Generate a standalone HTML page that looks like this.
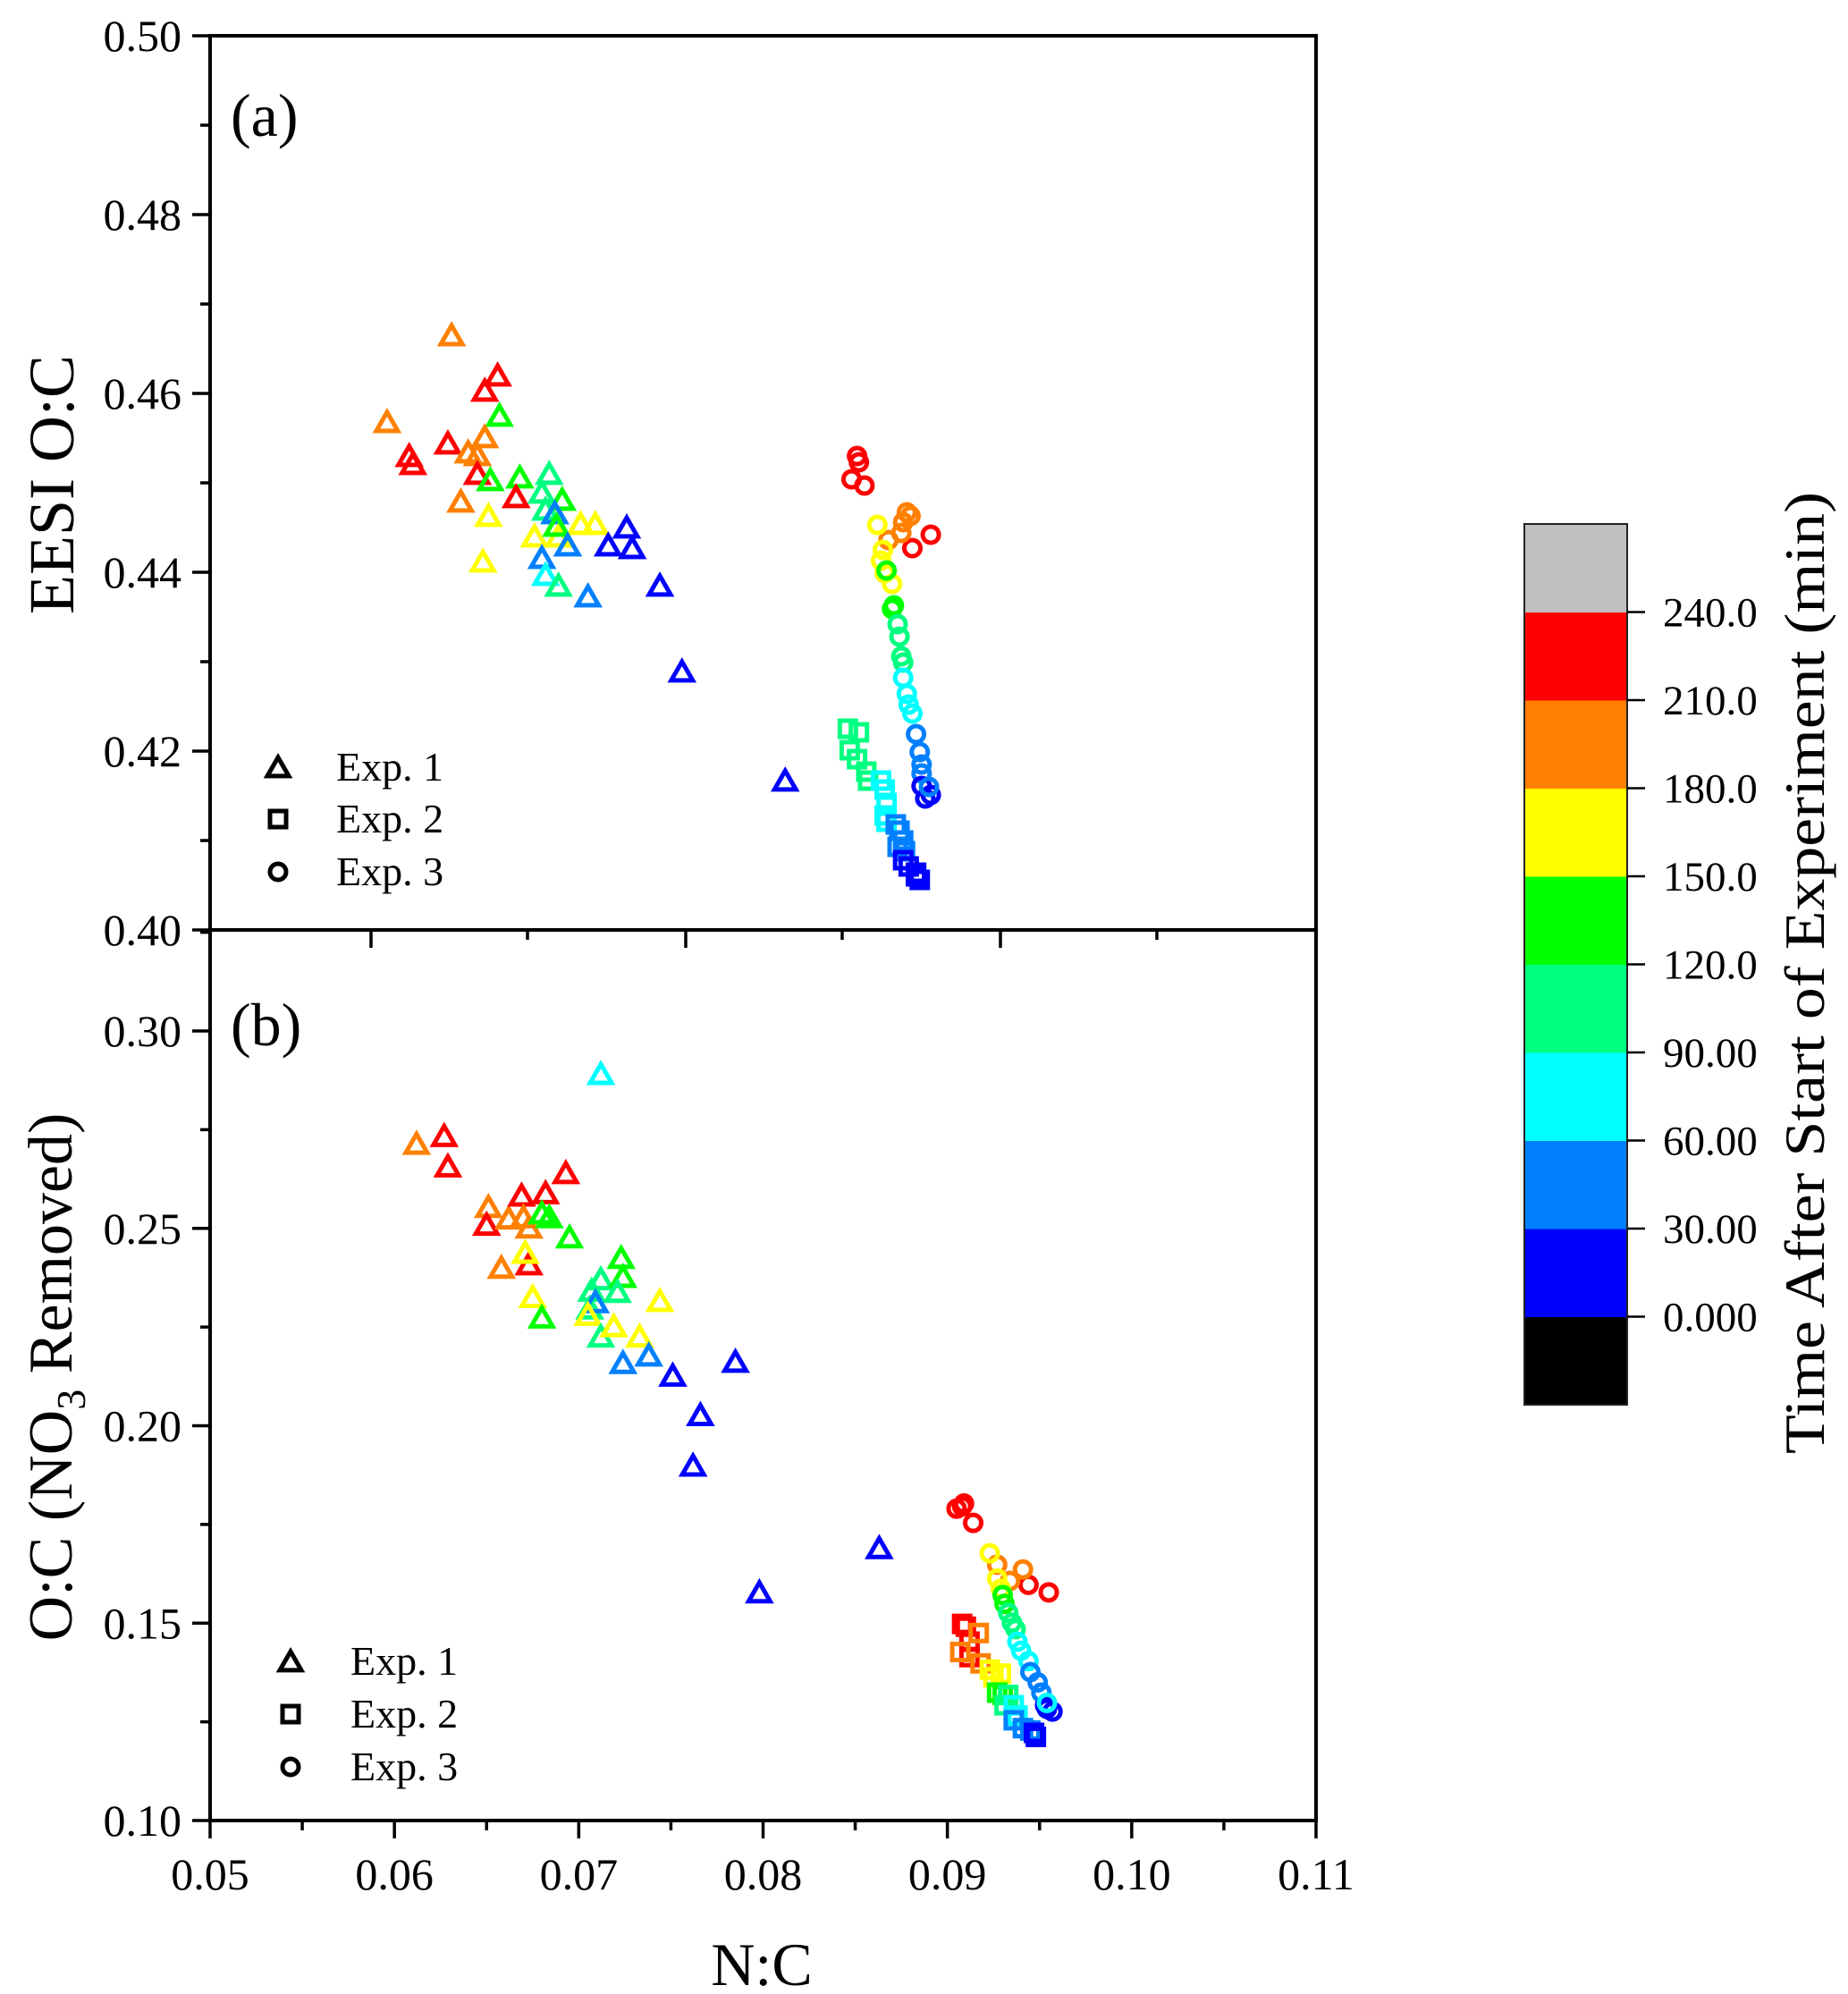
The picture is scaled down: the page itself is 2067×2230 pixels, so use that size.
<!DOCTYPE html>
<html><head><meta charset="utf-8"><style>
html,body{margin:0;padding:0;background:#fff;}
svg{display:block;font-family:"Liberation Serif",serif;}
</style></head><body>
<svg id="chart" width="2067" height="2230" viewBox="0 0 2067 2230" xmlns="http://www.w3.org/2000/svg"></svg>
<script>
// ---- data (N:C, O:C, time in minutes) ----
const aExp1X=[.0631,.0596,.0608,.0610,.0629,.0649,.0656,.0657,.0640,.0649,.0645,.0645,.0636,.0652,.0668,.0666,.0684,.0680,.0691,.0682,.0687,.0651,.0648,.0676,.0689,.0688,.0701,.0709,.0680,.0682,.0689,.0694,.0705,.0716,.0726,.0729,.0744,.0756,.0812];
const aExp1Y=[.4665,.4568,.4530,.4521,.4544,.4603,.4620,.4575,.4534,.4551,.4531,.4510,.4479,.4503,.4506,.4484,.4510,.4489,.4481,.4470,.4466,.4463,.4412,.4440,.4440,.4452,.4454,.4454,.4416,.4397,.4385,.4430,.4373,.4430,.4450,.4427,.4385,.4289,.4167];
const aExp1T=[195,195,225,225,225,225,225,135,195,195,195,225,195,135,135,225,105,105,135,105,45,165,165,165,165,135,165,165,45,75,105,45,45,15,15,15,15,15,15];
const aExp2X=[.0846,.0852,.0847,.0851,.0856,.0857,.0864,.0866,.0867,.0866,.0867,.0872,.0874,.0876,.0873,.0877,.0876,.0879,.0883,.0885,.0883];
const aExp2Y=[.4225,.4221,.4201,.4191,.4177,.4167,.4167,.4157,.4142,.4128,.4121,.4118,.4111,.4100,.4093,.4088,.4078,.4071,.4064,.4056,.4060];
const aExp2T=[105,105,105,105,105,105,75,75,75,75,75,45,45,45,45,45,15,15,15,15,15];
const aExp3X=[.0851,.0852,.0848,.0855,.0881,.0891,.0878,.0876,.0880,.0868,.0875,.0862,.0865,.0864,.0870,.0866,.0867,.0870,.0871,.0873,.0874,.0875,.0876,.0876,.0878,.0879,.0881,.0883,.0885,.0886,.0886,.0886,.0891,.0888,.0890];
const aExp3Y=[.4530,.4523,.4504,.4497,.4427,.4442,.4467,.4456,.4463,.4436,.4444,.4453,.4425,.4413,.4387,.4399,.4402,.4359,.4363,.4342,.4328,.4306,.4299,.4282,.4264,.4252,.4242,.4219,.4199,.4185,.4175,.4161,.4151,.4147,.4160];
const aExp3T=[225,225,225,225,225,225,195,195,195,195,195,165,165,165,165,165,135,135,135,105,105,105,105,75,75,75,75,45,45,45,45,15,15,15,45];
const bExp1X=[.0612,.0627,.0629,.0651,.0650,.0662,.0669,.0682,.0693,.0673,.0670,.0680,.0684,.0695,.0658,.0673,.0671,.0675,.0680,.0707,.0712,.0723,.0724,.0721,.0706,.0709,.0705,.0712,.0719,.0733,.0744,.0724,.0738,.0751,.0785,.0766,.0762,.0712,.0798,.0863];
const bExp1Y=[.2714,.2734,.2657,.2554,.2509,.2525,.2583,.2589,.2640,.2502,.2528,.2538,.2528,.2477,.2400,.2409,.2438,.2326,.2274,.2342,.2371,.2425,.2377,.2339,.2297,.2313,.2281,.2226,.2252,.2226,.2316,.2159,.2178,.2127,.2162,.2027,.1899,.2891,.1578,.1690];
const bExp1T=[195,225,225,195,225,195,225,225,225,195,195,135,135,135,195,225,165,165,135,105,105,135,135,105,105,45,165,105,165,165,165,45,45,15,15,15,15,75,15,15];
const bExp2X=[.0908,.0910,.0912,.0912,.0907,.0917,.0918,.0923,.0925,.0929,.0927,.0930,.0933,.0931,.0936,.0938,.0936,.0941,.0945,.0947,.0948];
const bExp2Y=[.1498,.1491,.1453,.1414,.1427,.1475,.1398,.1382,.1363,.1372,.1324,.1318,.1318,.1292,.1292,.1266,.1254,.1234,.1228,.1222,.1212];
const bExp2T=[225,225,225,225,195,195,195,165,165,165,135,135,105,105,75,75,45,45,45,15,15];
const bExp3X=[.0905,.0909,.0908,.0914,.0944,.0955,.0927,.0941,.0934,.0923,.0927,.0929,.0930,.0931,.0933,.0935,.0937,.0938,.0940,.0944,.0945,.0949,.0951,.0953,.0957,.0954,.0954];
const bExp3Y=[.1790,.1803,.1796,.1754,.1597,.1578,.1648,.1636,.1607,.1677,.1613,.1587,.1571,.1549,.1526,.1501,.1485,.1453,.1430,.1404,.1376,.1350,.1324,.1292,.1276,.1283,.1298];
const bExp3T=[225,225,225,225,225,225,195,195,195,165,165,165,135,135,105,105,105,75,75,75,45,45,45,15,15,15,75];
const xTicks=[0.05,0.06,0.07,0.08,0.09,0.10,0.11];
const xTickLabels=["0.05","0.06","0.07","0.08","0.09","0.10","0.11"];
const aYTicks=[0.40,0.42,0.44,0.46,0.48,0.50];
const aYTickLabels=["0.40","0.42","0.44","0.46","0.48","0.50"];
const bYTicks=[0.10,0.15,0.20,0.25,0.30];
const bYTickLabels=["0.10","0.15","0.20","0.25","0.30"];
const cbLevels=[0,30,60,90,120,150,180,210,240];
const cbLabels=["0.000","30.00","60.00","90.00","120.0","150.0","180.0","210.0","240.0"];
const cbColors=["#000000","#0000ff","#0080ff","#00ffff","#00ff80","#00ff00","#ffff00","#ff8000","#ff0000","#c0c0c0"];

// ---- layout ----
const NS="http://www.w3.org/2000/svg";
const svg=document.getElementById('chart');
const L=235,R=1472;
const xS=v=>L+(v-0.05)/0.06*(R-L);
const ayS=v=>1040-(v-0.40)/0.10*1000;
const byS=v=>2036-(v-0.10)/0.20*883;
function el(tag,attrs,parent){const e=document.createElementNS(NS,tag);for(const k in attrs)e.setAttribute(k,attrs[k]);(parent||svg).appendChild(e);return e;}
function colorFor(t){if(t<0)return cbColors[0];if(t>=240)return cbColors[9];return cbColors[1+Math.floor(t/30)];}
function marker(shape,cx,cy,col,g){
  let m;
  if(shape==='tri'){const h=11;m=el('polygon',{points:`${cx},${cy-h} ${cx+12},${cy+h*0.9} ${cx-12},${cy+h*0.9}`,fill:'none',stroke:col,'stroke-width':5,'stroke-linejoin':'miter'},g);}
  else if(shape==='sq'){m=el('rect',{x:cx-9,y:cy-9,width:18,height:18,fill:'none',stroke:col,'stroke-width':5},g);}
  else {m=el('circle',{cx:cx,cy:cy,r:9,fill:'none',stroke:col,'stroke-width':5},g);}
  return m;
}
function series(xs,ys,ts,shape,yS,name){
  const g=el('g',{});
  
  
  for(let i=0;i<xs.length;i++){
    const m=marker(shape,xS(xs[i]),yS(ys[i]),colorFor(ts[i]),g);
    
    
  }
}
function text(x,y,str,size,anchor,name,extra){
  const t=el('text',Object.assign({x:x,y:y,'font-size':size,'text-anchor':anchor||'start',fill:'#000'},extra||{}));
  t.textContent=str;
  
  
  return t;
}

// ---- series ----
series(aExp1X,aExp1Y,aExp1T,'tri',ayS,'panel-a-exp1');
series(aExp2X,aExp2Y,aExp2T,'sq',ayS,'panel-a-exp2');
series(aExp3X,aExp3Y,aExp3T,'circ',ayS,'panel-a-exp3');
series(bExp1X,bExp1Y,bExp1T,'tri',byS,'panel-b-exp1');
series(bExp2X,bExp2Y,bExp2T,'sq',byS,'panel-b-exp2');
series(bExp3X,bExp3Y,bExp3T,'circ',byS,'panel-b-exp3');

// ---- frames ----
const fa=el('rect',{x:L,y:40,width:R-L,height:1000,fill:'none',stroke:'#000','stroke-width':4});


const fb=el('rect',{x:L,y:1040,width:R-L,height:996,fill:'none',stroke:'#000','stroke-width':4});



// ---- axes ticks ----
const axes=el('g',{stroke:'#000','stroke-width':3.5});


aYTicks.forEach((v,i)=>{el('line',{x1:L-20,x2:L,y1:ayS(v),y2:ayS(v)},axes);
  text(203,ayS(v)+17,aYTickLabels[i],50,'end','panel-a-y-tick-label');
  if(i<aYTicks.length-1)el('line',{x1:L-11,x2:L,y1:ayS(v+0.01),y2:ayS(v+0.01)},axes);});
bYTicks.forEach((v,i)=>{el('line',{x1:L-20,x2:L,y1:byS(v),y2:byS(v)},axes);
  text(203,byS(v)+17,bYTickLabels[i],50,'end','panel-b-y-tick-label');
  el('line',{x1:L-11,x2:L,y1:byS(v+0.025),y2:byS(v+0.025)},axes);});
xTicks.forEach((v,i)=>{el('line',{x1:xS(v),x2:xS(v),y1:2036,y2:2056},axes);
  text(xS(v),2113,xTickLabels[i],50,'middle','x-tick-label');
  if(i<xTicks.length-1)el('line',{x1:xS(v+0.005),x2:xS(v+0.005),y1:2036,y2:2047},axes);});
[415,767,1119].forEach(x=>el('line',{x1:x,x2:x,y1:1040,y2:1060},axes));
[590,942,1294].forEach(x=>el('line',{x1:x,x2:x,y1:1040,y2:1051},axes));

// ---- titles ----
text(258,152,'(a)',68,'start','panel-a-label');
text(258,1169,'(b)',68,'start','panel-b-label');
text(852,2220,'N:C',68,'middle','x-axis-title');
text(0,0,'EESI O:C',72,'middle','panel-a-y-axis-title',{transform:'translate(82,542) rotate(-90)'});
const bt=text(0,0,'',70,'middle','panel-b-y-axis-title',{transform:'translate(80,1540) rotate(-90)'});
bt.innerHTML='O:C (NO<tspan font-size="46" dy="15">3</tspan><tspan dy="-15"> Removed)</tspan>';

// ---- legends ----
function legend(x,tx,ys,name){
  ['tri','sq','circ'].forEach((s,i)=>{
    const m=marker(s,x,ys[i],'#000');
    
    
    text(tx,ys[i]+15,'Exp. '+(i+1),46,'start',name+'-entry');
  });
}
legend(311,376,[858,916,975],'panel-a-legend');
legend(325,392,[1858,1917,1976],'panel-b-legend');

// ---- colorbar ----
const cb=el('g',{});


const cbTop=586,cbH=98.5,cbX=1705,cbW=115;
for(let i=0;i<10;i++){
  const r=el('rect',{x:cbX,y:cbTop+(9-i)*cbH,width:cbW,height:cbH+0.5,fill:cbColors[i]},cb);
  
  
}
el('rect',{x:cbX,y:cbTop,width:cbW,height:cbH*10,fill:'none',stroke:'#222','stroke-width':2},cb);
cbLevels.forEach((v,i)=>{
  const y=cbTop+(9-1-i)*cbH+cbH;
  el('line',{x1:cbX+cbW,x2:cbX+cbW+20,y1:y,y2:y,stroke:'#000','stroke-width':2.5},cb);
  text(1860,y+16,cbLabels[i],47,'start','colorbar-tick-label');
});
text(0,0,'Time After Start of Experiment (min)',64,'middle','colorbar-title',{transform:'translate(2040,1088) rotate(-90)',textLength:1076,lengthAdjust:'spacingAndGlyphs'});
</script>
</body></html>
